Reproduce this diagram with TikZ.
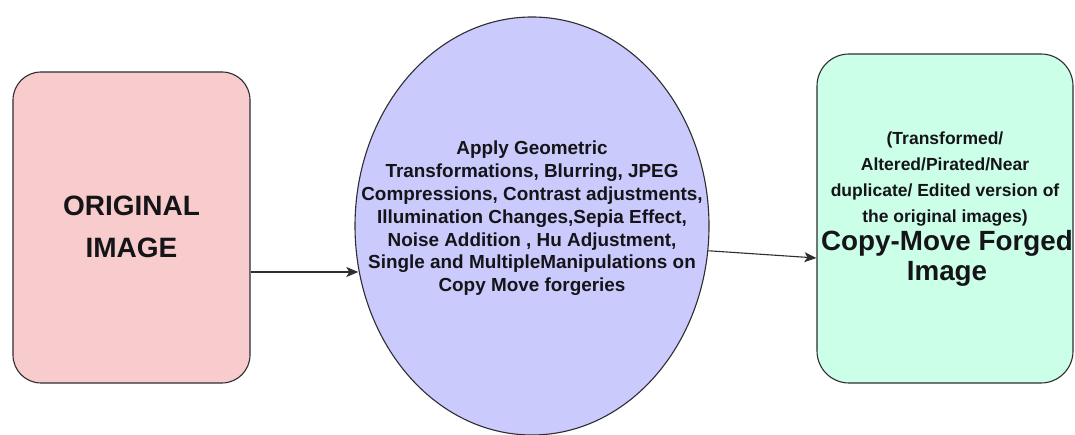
\documentclass[tikz,border=0pt]{standalone}
\usepackage{fontspec}
\setmainfont{Liberation Sans}
\usetikzlibrary{shapes.geometric,arrows.meta}
\definecolor{pinkfill}{RGB}{248,204,204}
\definecolor{lavfill}{RGB}{202,202,252}
\definecolor{mintfill}{RGB}{204,255,232}
\definecolor{edge}{RGB}{45,45,50}
\definecolor{txt}{RGB}{20,20,25}
\tikzset{
  box/.style={draw=edge, line width=1.1pt, rounded corners=#1, inner sep=0pt},
  ell/.style={draw=edge, line width=1.1pt, ellipse, inner sep=0pt, fill=lavfill},
  lbl/.style={text=txt, align=center, inner sep=0pt, font=\bfseries},
  arr/.style={draw=edge, line width=1.1pt, -{Stealth[length=12pt,width=10pt,inset=3pt]}}
}
\begin{document}
\begin{tikzpicture}[x=1pt,y=1pt]
\useasboundingbox (0,0) rectangle (1075,435);
\fill[white] (0,0) rectangle (1075,435);
% left box
\node[box=28pt, fill=pinkfill, minimum width=237pt, minimum height=311pt] (lbox) at (131.5,207.5) {};
\node[lbl, font=\bfseries\fontsize{28}{42}\selectfont] (ltext) at (131.5,208.5) {ORIGINAL\\IMAGE};
% ellipse
\node[ell, minimum width=354pt, minimum height=418pt] (ell) at (532,209) {};
\node[lbl, font=\bfseries\fontsize{18.9}{22.8}\selectfont] (etext) at (532,216.5) {Apply Geometric\\Transformations, Blurring, JPEG\\Compressions, Contrast adjustments,\\Illumination Changes,Sepia Effect,\\Noise Addition , Hu Adjustment,\\Single and MultipleManipulations on\\Copy Move forgeries};
% right box
\node[box=32pt, fill=mintfill, minimum width=256pt, minimum height=329pt] (rbox) at (945,216.5) {};
\node[lbl, font=\bfseries\fontsize{17.5}{26}\selectfont] (rsmall) at (945,256) {(Transformed/\\Altered/Pirated/Near\\duplicate/ Edited version of\\the original images)};
\node[lbl, font=\bfseries\fontsize{27.8}{30}\selectfont] (rbig) at (947,177) {Copy-Move Forged\\Image};
% arrows
\coordinate (a1) at ([yshift=-44.5pt]lbox.east);
\draw[arr] (a1) -- (a1 -| ell.194.9);
\draw[arr] (ell.-8.75) -- ([yshift=-39.5pt]rbox.west);
\end{tikzpicture}
\end{document}
